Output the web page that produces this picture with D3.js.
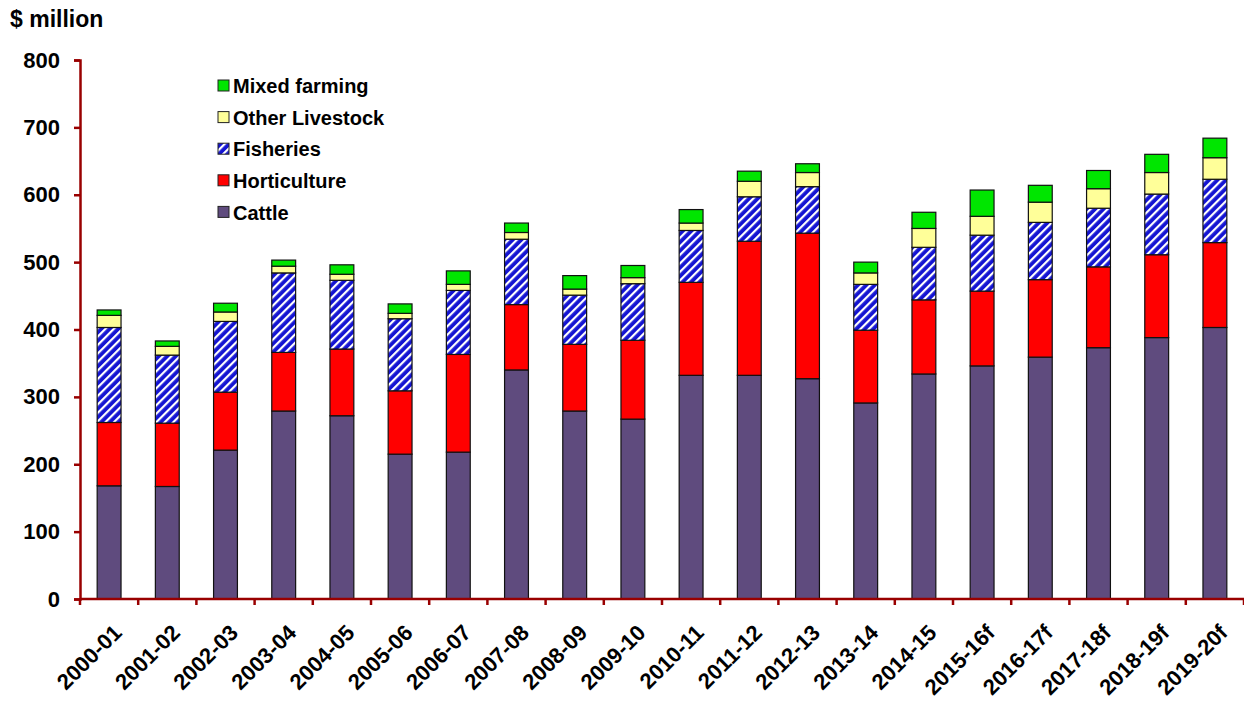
<!DOCTYPE html>
<html>
<head>
<meta charset="utf-8">
<script src="https://cdn.jsdelivr.net/npm/d3@7"></script>
<style>
  body { margin: 0; background: #fff; }
  text { font-family: "Liberation Sans", Arial, sans-serif; font-weight: bold; fill: #000; }
</style>
</head>
<body>
<div id="chart"></div>
<script>
// financial years, $ million
const years = ["2000-01","2001-02","2002-03","2003-04","2004-05","2005-06","2006-07","2007-08","2008-09","2009-10",
               "2010-11","2011-12","2012-13","2013-14","2014-15","2015-16f","2016-17f","2017-18f","2018-19f","2019-20f"];
const cattle      = [168,167,221,279,272,215,218,340,279,267,332,332,327,291,334,346,359,373,388,403];
const horticulture= [ 94, 94, 86, 87, 99, 94,145, 97, 99,117,138,199,216,108,110,111,115,120,123,126];
const fisheries   = [141,101,105,118,102,107, 95, 97, 73, 84, 77, 66, 69, 68, 78, 83, 85, 87, 90, 94];
const otherLive   = [ 18, 13, 14, 10,  9,  8,  9, 10,  9,  9, 11, 23, 21, 17, 28, 28, 30, 29, 32, 32];
const mixed       = [  8,  8, 13,  9, 14, 14, 20, 14, 20, 18, 20, 15, 13, 16, 24, 39, 25, 27, 27, 29];
const yTicks = [0,100,200,300,400,500,600,700,800];

const seriesNames = ["Cattle","Horticulture","Fisheries","Other Livestock","Mixed farming"];
const seriesVals = [cattle, horticulture, fisheries, otherLive, mixed];
const fills = ["#5f4b7e","#ff0000","url(#stripes)","#ffff99","#00e600"];

const width = 1244, height = 704;
const margin = {left: 80, right: 0, top: 60, bottom: 105};

const svg = d3.select("#chart").append("svg")
    .attr("width", width).attr("height", height);

const defs = svg.append("defs");
const pat = defs.append("pattern")
    .attr("id","stripes").attr("patternUnits","userSpaceOnUse")
    .attr("width",6).attr("height",6)
    .attr("patternTransform","rotate(45)");
pat.append("rect").attr("width",6).attr("height",6).attr("fill","#1414d2");
pat.append("rect").attr("x",0).attr("width",2.2).attr("height",6).attr("fill","#fff");

const table = years.map((y,i) => {
  const row = {year: y};
  seriesNames.forEach((s,k) => row[s] = seriesVals[k][i]);
  return row;
});
const stacked = d3.stack().keys(seriesNames)(table);

const x = d3.scaleBand().domain(years)
    .range([margin.left, width - margin.right]).paddingInner(0.59).paddingOuter(0.295);
const y = d3.scaleLinear().domain([0,800]).range([height - margin.bottom, margin.top]);

const axisColor = "#990000";

// bars
svg.append("g").selectAll("g").data(stacked).enter().append("g")
    .attr("fill", (d,i) => fills[i])
  .selectAll("rect").data(d => d).enter().append("rect")
    .attr("x", d => x(d.data.year))
    .attr("width", x.bandwidth())
    .attr("y", d => y(d[1]))
    .attr("height", d => y(d[0]) - y(d[1]))
    .attr("stroke","#111").attr("stroke-width",1.2);

// y axis
const yAxis = svg.append("g").attr("transform",`translate(${margin.left},0)`)
    .call(d3.axisLeft(y).tickValues(yTicks).tickSize(6).tickPadding(14));
yAxis.select(".domain").attr("stroke",axisColor).attr("stroke-width",2.5);
yAxis.selectAll(".tick line").attr("stroke",axisColor).attr("stroke-width",2.5);
yAxis.selectAll(".tick text").style("font-size","22px");

// x axis: ticks at category boundaries
const step = x.step();
const bounds = d3.range(years.length + 1).map(i => margin.left + i * step);
const xg = svg.append("g");
xg.append("line").attr("x1",margin.left).attr("x2",width).attr("y1",y(0)).attr("y2",y(0))
    .attr("stroke",axisColor).attr("stroke-width",2.5);
xg.selectAll("line.tk").data(bounds).enter().append("line").attr("class","tk")
    .attr("x1",d=>d).attr("x2",d=>d).attr("y1",y(0)).attr("y2",y(0)+6)
    .attr("stroke",axisColor).attr("stroke-width",2.5);
xg.selectAll("text").data(years).enter().append("text")
    .attr("transform", d => `translate(${x(d) + x.bandwidth()/2 + 14},${y(0) + 35}) rotate(-45)`)
    .attr("text-anchor","end")
    .style("font-size","22px")
    .text(d => d);

// unit label
svg.append("text").attr("x",10).attr("y",27).style("font-size","23px").text("$ million");

// legend (top to bottom: reverse series order)
const legendOrder = seriesNames.map((s,i) => ({name: s, fill: fills[i]})).reverse();
const lg = svg.append("g");
const li = lg.selectAll("g").data(legendOrder).enter().append("g")
    .attr("transform",(d,i) => `translate(218,${86 + i*31.6})`);
li.append("rect").attr("x",0).attr("y",-6).attr("width",11).attr("height",11)
    .attr("fill",d=>d.fill).attr("stroke","#222").attr("stroke-width",1);
li.append("text").attr("x",15).attr("dy","0.36em").style("font-size","20px").text(d=>d.name);
</script>
</body>
</html>
